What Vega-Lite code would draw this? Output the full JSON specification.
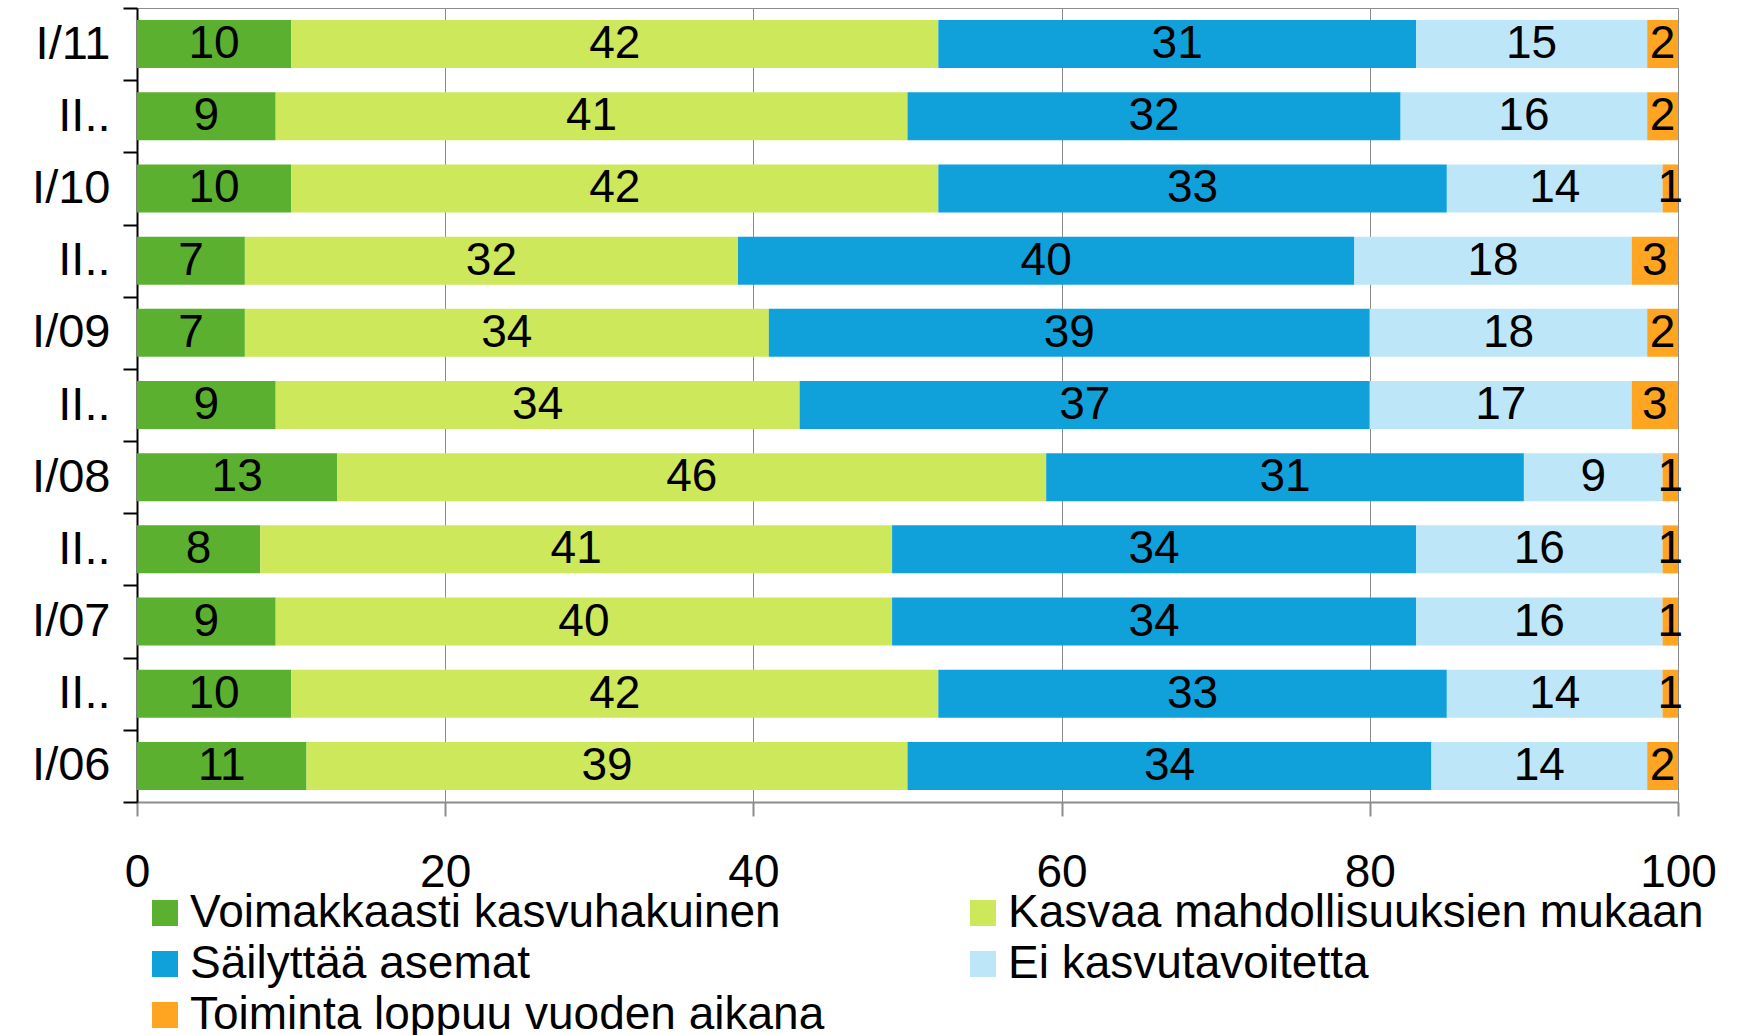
{
  "$schema": "https://vega.github.io/schema/vega-lite/v6.json",
  "width": 1541,
  "height": 794,
  "autosize": {"type": "none"},
  "padding": {"left": 137, "top": 8, "right": 66, "bottom": 233},
  "config": {
    "font": "Liberation Sans",
    "view": {"stroke": "#8c8c8c", "strokeWidth": 1}
  },
  "data": {
    "values": [
      {"period": "I/11", "cat": "Voimakkaasti kasvuhakuinen", "k": 1, "v": 10},
      {"period": "I/11", "cat": "Kasvaa mahdollisuuksien mukaan", "k": 2, "v": 42},
      {"period": "I/11", "cat": "Säilyttää asemat", "k": 3, "v": 31},
      {"period": "I/11", "cat": "Ei kasvutavoitetta", "k": 4, "v": 15},
      {"period": "I/11", "cat": "Toiminta loppuu vuoden aikana", "k": 5, "v": 2},
      {"period": "II/10", "cat": "Voimakkaasti kasvuhakuinen", "k": 1, "v": 9},
      {"period": "II/10", "cat": "Kasvaa mahdollisuuksien mukaan", "k": 2, "v": 41},
      {"period": "II/10", "cat": "Säilyttää asemat", "k": 3, "v": 32},
      {"period": "II/10", "cat": "Ei kasvutavoitetta", "k": 4, "v": 16},
      {"period": "II/10", "cat": "Toiminta loppuu vuoden aikana", "k": 5, "v": 2},
      {"period": "I/10", "cat": "Voimakkaasti kasvuhakuinen", "k": 1, "v": 10},
      {"period": "I/10", "cat": "Kasvaa mahdollisuuksien mukaan", "k": 2, "v": 42},
      {"period": "I/10", "cat": "Säilyttää asemat", "k": 3, "v": 33},
      {"period": "I/10", "cat": "Ei kasvutavoitetta", "k": 4, "v": 14},
      {"period": "I/10", "cat": "Toiminta loppuu vuoden aikana", "k": 5, "v": 1},
      {"period": "II/09", "cat": "Voimakkaasti kasvuhakuinen", "k": 1, "v": 7},
      {"period": "II/09", "cat": "Kasvaa mahdollisuuksien mukaan", "k": 2, "v": 32},
      {"period": "II/09", "cat": "Säilyttää asemat", "k": 3, "v": 40},
      {"period": "II/09", "cat": "Ei kasvutavoitetta", "k": 4, "v": 18},
      {"period": "II/09", "cat": "Toiminta loppuu vuoden aikana", "k": 5, "v": 3},
      {"period": "I/09", "cat": "Voimakkaasti kasvuhakuinen", "k": 1, "v": 7},
      {"period": "I/09", "cat": "Kasvaa mahdollisuuksien mukaan", "k": 2, "v": 34},
      {"period": "I/09", "cat": "Säilyttää asemat", "k": 3, "v": 39},
      {"period": "I/09", "cat": "Ei kasvutavoitetta", "k": 4, "v": 18},
      {"period": "I/09", "cat": "Toiminta loppuu vuoden aikana", "k": 5, "v": 2},
      {"period": "II/08", "cat": "Voimakkaasti kasvuhakuinen", "k": 1, "v": 9},
      {"period": "II/08", "cat": "Kasvaa mahdollisuuksien mukaan", "k": 2, "v": 34},
      {"period": "II/08", "cat": "Säilyttää asemat", "k": 3, "v": 37},
      {"period": "II/08", "cat": "Ei kasvutavoitetta", "k": 4, "v": 17},
      {"period": "II/08", "cat": "Toiminta loppuu vuoden aikana", "k": 5, "v": 3},
      {"period": "I/08", "cat": "Voimakkaasti kasvuhakuinen", "k": 1, "v": 13},
      {"period": "I/08", "cat": "Kasvaa mahdollisuuksien mukaan", "k": 2, "v": 46},
      {"period": "I/08", "cat": "Säilyttää asemat", "k": 3, "v": 31},
      {"period": "I/08", "cat": "Ei kasvutavoitetta", "k": 4, "v": 9},
      {"period": "I/08", "cat": "Toiminta loppuu vuoden aikana", "k": 5, "v": 1},
      {"period": "II/07", "cat": "Voimakkaasti kasvuhakuinen", "k": 1, "v": 8},
      {"period": "II/07", "cat": "Kasvaa mahdollisuuksien mukaan", "k": 2, "v": 41},
      {"period": "II/07", "cat": "Säilyttää asemat", "k": 3, "v": 34},
      {"period": "II/07", "cat": "Ei kasvutavoitetta", "k": 4, "v": 16},
      {"period": "II/07", "cat": "Toiminta loppuu vuoden aikana", "k": 5, "v": 1},
      {"period": "I/07", "cat": "Voimakkaasti kasvuhakuinen", "k": 1, "v": 9},
      {"period": "I/07", "cat": "Kasvaa mahdollisuuksien mukaan", "k": 2, "v": 40},
      {"period": "I/07", "cat": "Säilyttää asemat", "k": 3, "v": 34},
      {"period": "I/07", "cat": "Ei kasvutavoitetta", "k": 4, "v": 16},
      {"period": "I/07", "cat": "Toiminta loppuu vuoden aikana", "k": 5, "v": 1},
      {"period": "II/06", "cat": "Voimakkaasti kasvuhakuinen", "k": 1, "v": 10},
      {"period": "II/06", "cat": "Kasvaa mahdollisuuksien mukaan", "k": 2, "v": 42},
      {"period": "II/06", "cat": "Säilyttää asemat", "k": 3, "v": 33},
      {"period": "II/06", "cat": "Ei kasvutavoitetta", "k": 4, "v": 14},
      {"period": "II/06", "cat": "Toiminta loppuu vuoden aikana", "k": 5, "v": 1},
      {"period": "I/06", "cat": "Voimakkaasti kasvuhakuinen", "k": 1, "v": 11},
      {"period": "I/06", "cat": "Kasvaa mahdollisuuksien mukaan", "k": 2, "v": 39},
      {"period": "I/06", "cat": "Säilyttää asemat", "k": 3, "v": 34},
      {"period": "I/06", "cat": "Ei kasvutavoitetta", "k": 4, "v": 14},
      {"period": "I/06", "cat": "Toiminta loppuu vuoden aikana", "k": 5, "v": 2}
    ]
  },
  "encoding": {
    "y": {
      "field": "period",
      "type": "nominal",
      "sort": null,
      "scale": {"paddingInner": 0, "paddingOuter": 0},
      "axis": {
        "title": null,
        "tickBand": "extent",
        "domainColor": "#000000",
        "domainWidth": 2,
        "tickColor": "#000000",
        "tickWidth": 2,
        "tickSize": 14,
        "labelFontSize": 47,
        "labelColor": "#000000",
        "labelPadding": 13,
        "labelExpr": "isString(datum.value) && test(/^II/, datum.value) ? 'II..' : datum.label"
      }
    },
    "x": {
      "field": "v",
      "type": "quantitative",
      "stack": "zero",
      "scale": {"domain": [0, 100], "nice": false},
      "axis": {
        "title": null,
        "values": [0, 20, 40, 60, 80, 100],
        "grid": true,
        "gridColor": "#8c8c8c",
        "gridWidth": 1,
        "domainColor": "#8c8c8c",
        "domainWidth": 2,
        "tickColor": "#8c8c8c",
        "tickWidth": 2,
        "tickSize": 14,
        "labelFontSize": 46,
        "labelColor": "#000000",
        "labelPadding": 34,
        "labelFlush": false
      }
    },
    "order": {"field": "k", "type": "quantitative"}
  },
  "layer": [
    {
      "mark": {"type": "bar", "height": {"band": 0.665}},
      "encoding": {
        "color": {
          "field": "cat",
          "type": "nominal",
          "sort": ["Voimakkaasti kasvuhakuinen", "Kasvaa mahdollisuuksien mukaan", "Säilyttää asemat", "Ei kasvutavoitetta", "Toiminta loppuu vuoden aikana"],
          "scale": {
            "domain": ["Voimakkaasti kasvuhakuinen", "Kasvaa mahdollisuuksien mukaan", "Säilyttää asemat", "Ei kasvutavoitetta", "Toiminta loppuu vuoden aikana"],
            "range": ["#5bb030", "#cde85b", "#10a1db", "#bde7f8", "#ffa521"]
          },
          "legend": {
            "title": null,
            "orient": "none",
            "legendX": 5,
            "legendY": 882,
            "direction": "horizontal",
            "columns": 2,
            "columnPadding": 135,
            "rowPadding": 5,
            "symbolType": "square",
            "symbolSize": 676,
            "symbolStrokeWidth": 0,
            "symbolOpacity": 1,
            "labelFontSize": 46,
            "labelColor": "#000000",
            "labelOffset": 2,
            "labelLimit": 900,
            "padding": 0
          }
        }
      }
    },
    {
      "mark": {"type": "text", "fontSize": 46, "color": "#000000", "baseline": "middle", "align": "center"},
      "encoding": {
        "x": {"field": "v", "type": "quantitative", "stack": "zero", "bandPosition": 0.5},
        "text": {"field": "v", "type": "quantitative"}
      }
    }
  ]
}
